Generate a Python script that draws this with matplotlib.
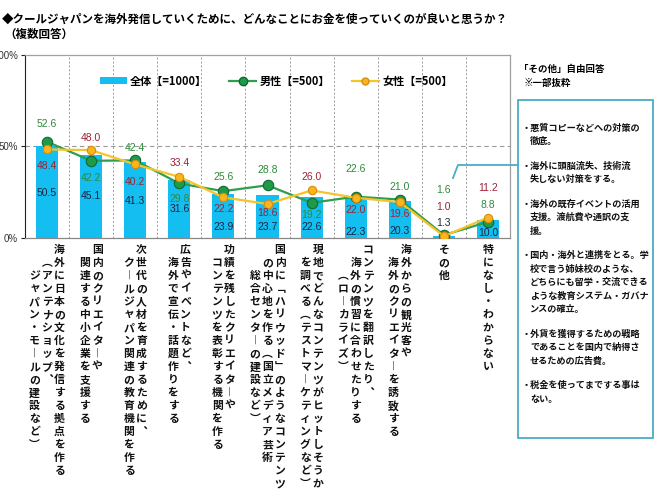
import matplotlib
matplotlib.use('Agg')
import matplotlib.pyplot as plt
from matplotlib.patches import Rectangle, Patch
from matplotlib.lines import Line2D
import numpy as np

plt.rcParams['font.family'] = ['Noto Sans CJK JP', 'DejaVu Sans']

# ---------------- data ----------------
categories = [
    ["海外に日本の文化を発信する拠点を作る", "（アンテナショップ、", "ジャパン・モールの建設など）"],
    ["国内のクリエイターや", "関連する中小企業を支援する"],
    ["次世代の人材を育成するために、", "クールジャパン関連の教育機関を作る"],
    ["広告やイベントなど、", "海外で宣伝・話題作りをする"],
    ["功績を残したクリエイターや", "コンテンツを表彰する機関を作る"],
    ["国内に「ハリウッド」のようなコンテンツ", "の中心地を作る（国立メディア芸術", "総合センターの建設など）"],
    ["現地でどんなコンテンツがヒットしそうか", "を調べる（テストマーケティングなど）"],
    ["コンテンツを翻訳したり、", "海外の慣習に合わせたりする", "（ローカライズ）"],
    ["海外からの観光客や", "海外のクリエイターを誘致する"],
    ["その他"],
    ["特になし・わからない"],
]
total = [50.5, 45.1, 41.3, 31.6, 23.9, 23.7, 22.6, 22.3, 20.3, 1.3, 10.0]
male = [52.6, 42.2, 42.4, 29.8, 25.6, 28.8, 19.2, 22.6, 21.0, 1.6, 8.8]
female = [48.4, 48.0, 40.2, 33.4, 22.2, 18.6, 26.0, 22.0, 19.6, 1.0, 11.2]
yticks = [0, 50, 100]
ytick_labels = ["0%", "50%", "100%"]
legend_labels = ["全体【=1000】", "男性【=500】", "女性【=500】"]
title = "◆クールジャパンを海外発信していくために、どんなことにお金を使っていくのが良いと思うか？"
subtitle = "（複数回答）"
note_title = "「その他」自由回答"
note_sub = "※一部抜粋"
notes = [
    ["・悪質コピーなどへの対策の", "徹底。"],
    ["・海外に頭脳流失、技術流", "失しない対策をする。"],
    ["・海外の既存イベントの活用", "支援。渡航費や通訳の支", "援。"],
    ["・国内・海外と連携をとる。学", "校で言う姉妹校のような、", "どちらにも留学・交流できる",
     "ような教育システム・ガバナ", "ンスの確立。"],
    ["・外貨を獲得するための戦略", "であることを国内で納得さ", "せるための広告費。"],
    ["・税金を使ってまでする事は", "ない。"],
]

# label offsets in pixels (layout only)
male_off = [18, -17, 12, -16, 14, 15, -12, 28, 13, 45, 17]
female_off = [-17, 12, -18, 14, -12, -9, 13, -12, -12, 29, 30]
total_off = [-47, -41, -39, -29, -33, -32, -30, -35, -30, 13, -13]

# ---------------- figure ----------------
W, H = 659, 494
fig = plt.figure(figsize=(W / 100, H / 100), dpi=100)


def fx(x):
    return x / W


def fy(y):
    return 1 - y / H


ax = fig.add_axes([fx(25), fy(238), (510 - 25) / W, (238 - 55) / H])
x = np.arange(len(total))

C_BAR = '#14BEF0'
C_MALE = '#2E9E4E'
C_FEM = '#F5C42A'

ax.bar(x, total, width=0.5, color=C_BAR, zorder=2)
ax.plot(x, male, color=C_MALE, lw=1.6, marker='o', ms=7.5, mfc='#1E9A48',
        mec='#0E6A2E', mew=0.8, zorder=4)
ax.plot(x, female, color=C_FEM, lw=1.6, marker='o', ms=6, mfc='#F9B41E',
        mec='#D88E0C', mew=0.8, zorder=5)

ax.set_xlim(-0.5, len(total) - 0.5)
ax.set_ylim(0, 100)
ax.axhline(50, color='#999999', ls=(0, (4, 3)), lw=0.8, zorder=1)
for b in np.arange(0.5, len(total) - 1, 1):
    ax.axvline(b, color='#9a9a9a', ls=(0, (2, 2)), lw=0.7, zorder=1)

for s in ['top', 'right']:
    ax.spines[s].set_color('#a0a0a0')
    ax.spines[s].set_linewidth(0.9)
ax.spines['left'].set_color('#222222')
ax.spines['left'].set_linewidth(0.8)
ax.spines['bottom'].set_color('#888888')
ax.spines['bottom'].set_linewidth(0.9)

ax.set_xticks([])
ax.set_yticks(yticks)
ax.set_yticklabels(ytick_labels, fontsize=7, family=['Liberation Sans', 'DejaVu Sans'],
                   color='#333333')
ax.tick_params(axis='y', length=3, width=0.8, pad=2, color='#222222')

# data labels
num_font = dict(fontsize=7.5, family=['Liberation Sans', 'DejaVu Sans'], ha='center',
                va='center', zorder=6)
for i in range(len(total)):
    ax.annotate(f"{male[i]:.1f}", xy=(i, male[i]), xytext=(0, male_off[i]),
                textcoords='offset pixels', color='#2F8A3A', **num_font)
    ax.annotate(f"{female[i]:.1f}", xy=(i, female[i]), xytext=(0, female_off[i]),
                textcoords='offset pixels', color='#9B2335', **num_font)
    ax.annotate(f"{total[i]:.1f}", xy=(i, total[i]), xytext=(0, total_off[i]),
                textcoords='offset pixels', color='#1A2540', **num_font)

# legend
handles = [Patch(facecolor=C_BAR, edgecolor='none'),
           Line2D([], [], color=C_MALE, lw=1.6, marker='o', ms=6, mfc='#1E9A48', mec='#0E6A2E'),
           Line2D([], [], color=C_FEM, lw=1.6, marker='o', ms=5, mfc='#F9B41E', mec='#D88E0C')]
ax.legend(handles, legend_labels, loc='center', bbox_to_anchor=(0.518, 0.858), ncol=3,
          frameon=False, prop={'size': 8, 'weight': 'bold'}, handlelength=2.4,
          columnspacing=2.0, handletextpad=0.3)

# vertical category labels
vmap = str.maketrans({"ー": "︱", "（": "︵", "）": "︶", "「": "﹁", "」": "﹂", "、": "︑"})
pitch = 13.0
colsp = 12.5
for i, cols in enumerate(categories):
    n = len(cols)
    for j, col in enumerate(cols):
        dx = ((n - 1) / 2 - j) * colsp
        for k, ch in enumerate(col.translate(vmap)):
            dy = 12 + (j + k) * pitch
            ax.annotate(ch, xy=(i, 0), xycoords=('data', 'axes fraction'),
                        xytext=(dx, -dy), textcoords='offset pixels', ha='center',
                        va='center', fontsize=7.8, fontweight='bold', color='#111111',
                        annotation_clip=False)

# titles
fig.text(fx(2), fy(19), title, fontsize=8.3, fontweight='bold', ha='left', va='center')
fig.text(fx(4), fy(34), subtitle, fontsize=8.3, fontweight='bold', ha='left', va='center')

# notes on the right
fig.text(fx(519), fy(69), note_title, fontsize=6.8, fontweight='bold', ha='left', va='center')
fig.text(fx(524), fy(83), note_sub, fontsize=6.8, fontweight='bold', ha='left', va='center')

C_BOX = '#4BACC6'
fig.add_artist(Rectangle((fx(518), fy(438)), (653 - 518) / W, (438 - 100) / H,
                         fill=False, edgecolor=C_BOX, lw=1.3, transform=fig.transFigure))
fig.add_artist(Line2D([fx(518), fx(458), fx(453)], [fy(165), fy(165), fy(178)],
                      color=C_BOX, lw=1.3, transform=fig.transFigure))

yy = 128
for para in notes:
    for li, line in enumerate(para):
        xx = 522 if li == 0 else 530
        fig.text(fx(xx), fy(yy), line, fontsize=6.6, fontweight='bold', ha='left',
                 va='center', color='#111111')
        yy += 13.5
    yy += 11

fig.savefig('out.png', dpi=100)
